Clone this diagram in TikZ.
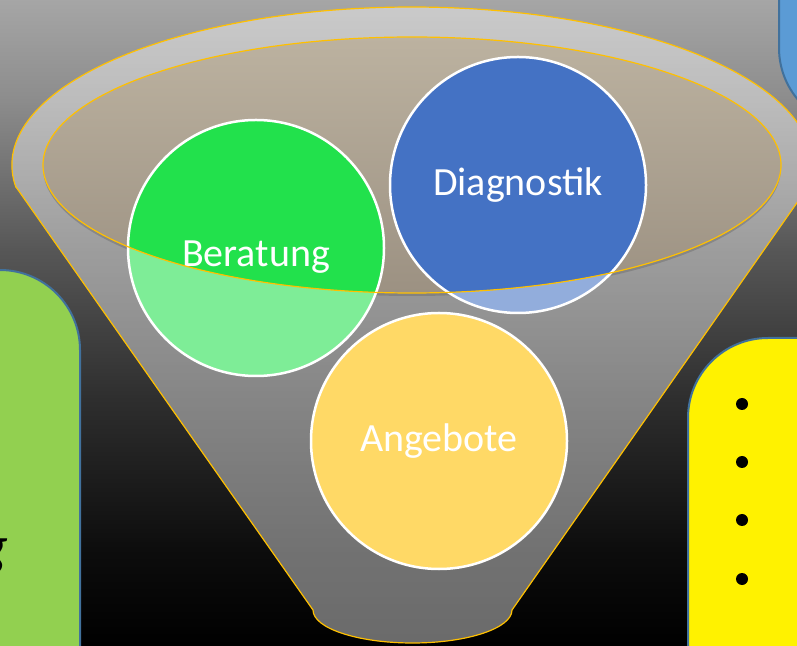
\documentclass[tikz,border=0pt]{standalone}
\usepackage{fontspec}
\setmainfont{Carlito}

\definecolor{rim}{HTML}{FFC000}
\definecolor{edge}{HTML}{41719C}
\definecolor{bergreen}{HTML}{22E14C}
\definecolor{diagblue}{HTML}{4472C4}
\definecolor{angyellow}{HTML}{FFD966}
\definecolor{leftgreen}{HTML}{92D050}
\definecolor{topblue}{HTML}{5B9BD5}
\definecolor{tantop}{RGB}{188,178,160}
\definecolor{tanbot}{RGB}{156,145,130}
\pgfdeclareverticalshading{backdrop}{100bp}{color(0bp)=(black); color(25bp)=(black);
  color(32.4bp)=(black!95); color(44bp)=(black!82); color(55.6bp)=(black!66);
  color(67.25bp)=(black!45); color(75bp)=(black!35); color(100bp)=(black!35)}

\tikzset{
  bubble/.style={circle, draw=white, line width=2.5pt, minimum size=256pt, inner sep=0pt,
    text=white, font=\fontsize{40}{48}\selectfont},
  panel/.style={draw=edge, line width=2pt, rounded corners=80pt},
  dot/.style={circle, fill=black, minimum size=12pt, inner sep=0pt}
}

\begin{document}
\begin{tikzpicture}[x=1pt,y=1pt]
  \useasboundingbox (0,0) rectangle (797,645);
  \clip (0,0) rectangle (797,645);
  \shade[shading=backdrop] (0,0) rectangle (797,645);

  % inside of the funnel
  \fill[black,opacity=.45] (412,477) ellipse [x radius=369, y radius=128];
  \shade[top color=tantop, bottom color=tanbot] (412,480) ellipse [x radius=369, y radius=128];

  \node[bubble, fill=bergreen] (beratung) at (256,397) {\raisebox{-19pt}[0pt][0pt]{Beratung}};
  \node[bubble, fill=diagblue] (diagnostik) at (518,460) {Diagnostik};

  % funnel
  \fill[white, opacity=.42, even odd rule]
    (16,458) -- (313,35) arc [start angle=180, end angle=360, x radius=99.5, y radius=33]
    -- (808,458) arc [start angle=-8, end angle=188, x radius=400, y radius=158] -- cycle
    (412,480) ellipse [x radius=369, y radius=128];
  \draw[rim, line width=1.2pt]
    (16,458) -- (313,35) arc [start angle=180, end angle=360, x radius=99.5, y radius=33]
    -- (808,458) arc [start angle=-8, end angle=188, x radius=400, y radius=158] -- cycle;
  \draw[rim, line width=1.2pt] (412,480) ellipse [x radius=369, y radius=128];

  \node[bubble, fill=angyellow] (angebote) at (439,204) {Angebote};

  \draw[panel, fill=leftgreen] (-200,-100) rectangle (80,375);
  \node[anchor=base east, inner sep=0pt, font=\fontsize{58}{60}\selectfont\itshape] (g) at (9,80) {g};

  \draw[panel, fill=yellow] (688,307) rectangle (1000,-100);
  \foreach \y [count=\i] in {241,183,125,66}
    \node[dot] (p\i) at (742,\y) {};

  \draw[panel, fill=topblue] (779,517) rectangle (1000,800);
\end{tikzpicture}
\end{document}
